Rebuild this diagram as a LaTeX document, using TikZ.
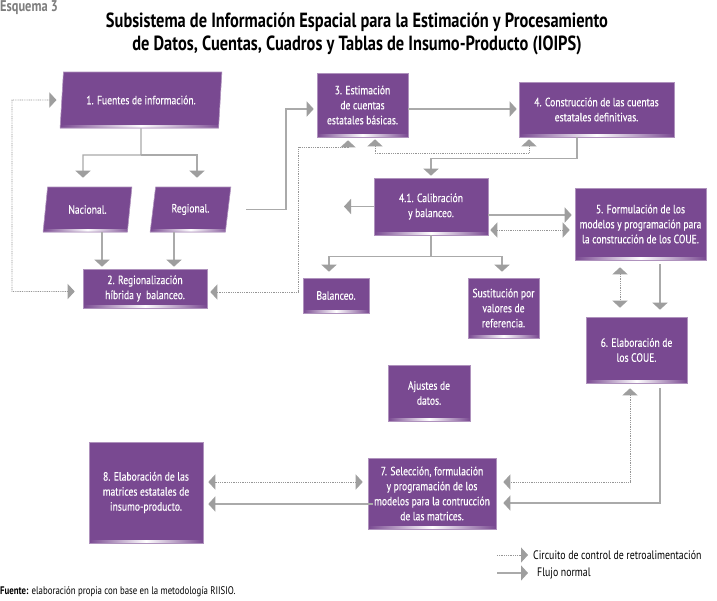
\documentclass[tikz,border=0pt]{standalone}
\usepackage{fontspec}
\setmainfont{PT Sans}[FakeStretch=0.8]
\newfontfamily\bxfam{PT Sans}[FakeStretch=0.8,FakeBold=0.3]
\usetikzlibrary{arrows.meta,shapes.geometric,calc}
\definecolor{boxc}{RGB}{121,73,145}
\definecolor{linec}{RGB}{170,170,170}
\definecolor{dotc}{RGB}{150,150,150}
\definecolor{tipc}{RGB}{158,158,158}
\definecolor{headc}{RGB}{125,125,125}
\newcommand{\bxfont}{\bxfam\fontsize{12}{15}\selectfont}
\newcommand{\ttlfont}{\fontsize{20.5}{23}\selectfont\bfseries}
\begin{document}
\begin{tikzpicture}[x=1pt,y=-1pt,
  >={Triangle[width=15pt,length=7pt,color=tipc]},
  box/.style={rectangle,fill=boxc,draw=boxc!60!white,line width=0.6pt,text=white,align=center,inner sep=0pt,font=\bxfont,
    path picture={\shade[left color=boxc,right color=boxc,middle color=white] ([yshift=-0.5pt]path picture bounding box.south west) rectangle ([yshift=2.5pt]path picture bounding box.south east);}},
  para/.style={box,trapezium,trapezium left angle=75,trapezium right angle=105,trapezium stretches=true},
  flow/.style={draw=linec,line width=1.3pt},
  fb/.style={draw=dotc,line width=0.9pt,dash pattern=on 0.9pt off 0.9pt},
  lbl/.style={inner sep=0pt,anchor=west,font=\fontsize{12.3}{14}\selectfont},
]
\fill[white] (0,0) rectangle (717,600);
\useasboundingbox (0,0) rectangle (717,600);

% titles
\node[anchor=north west,inner sep=0pt,font=\fontsize{15.5}{17}\selectfont\bfseries,text=headc] (esq) at (0,0.5) {Esquema 3};
\node[align=center,inner sep=0pt,font=\ttlfont] (title) at (357,34) {Subsistema de Información Espacial para la Estimación y Procesamiento\\de Datos, Cuentas, Cuadros y Tablas de Insumo-Producto (IOIPS)};

% nodes
\node[para,minimum width=162pt,minimum height=56pt] (n1) at (141,100) {1. Fuentes de información.};
\node[para,trapezium left angle=76,trapezium right angle=104,minimum width=89pt,minimum height=45pt] (nac) at (87.5,209.5) {Nacional.};
\node[para,minimum width=81pt,minimum height=45pt] (reg) at (190.5,209.5) {Regional.};
\node[box,minimum width=124pt,minimum height=39pt] (n2) at (145,288.5) {2. Regionalización\\híbrida y \ balanceo.};
\node[box,minimum width=91pt,minimum height=64pt] (n3) at (362.5,105) {3. Estimación\\de cuentas\\estatales básicas.};
\node[box,minimum width=155pt,minimum height=55pt] (n4) at (596.5,109.5) {4. Construcción de las cuentas\\estatales definitivas.};
\node[box,minimum width=114pt,minimum height=57pt] (n41) at (431,206.5) {4.1. Calibración\\y balanceo.};
\node[box,minimum width=131pt,minimum height=72pt] (n5) at (640.5,224) {5. Formulación de los\\modelos y programación para\\la construcción de los COUE.};
\node[box,minimum width=66pt,minimum height=35pt] (bal) at (336,295.5) {Balanceo.};
\node[box,minimum width=71pt,minimum height=60pt] (sus) at (503.5,308) {Sustitución por\\valores de\\referencia.};
\node[box,minimum width=101pt,minimum height=66pt] (n6) at (636.5,350) {6. Elaboración de\\los COUE.};
\node[box,minimum width=82pt,minimum height=56pt] (aj) at (429,393) {Ajustes de\\datos.};
\node[box,minimum width=128pt,minimum height=71pt] (n7) at (432,493.5) {7. Selección, formulación\\y programación de los\\modelos para la contrucción\\de las matrices.};
\node[box,minimum width=114pt,minimum height=101pt] (n8) at (146,492.5) {8. Elaboración de las\\matrices estatales de\\insumo-producto.};

% helper coordinates
\coordinate (k83) at (83,0);
\coordinate (k197) at (197,0);
\coordinate (k102) at (102,0);
\coordinate (k174) at (174,0);
\coordinate (k286) at (286,0);
\coordinate (k348) at (348,0);
\coordinate (k375) at (375,0);
\coordinate (k529) at (529,0);
\coordinate (k577) at (577,0);
\coordinate (k329) at (329,0);
\coordinate (k502) at (502,0);
\coordinate (k620) at (620,0);
\coordinate (k660) at (660,0);
\coordinate (k630) at (630,0);
\coordinate (j1) at (141,155);
\coordinate (d1) at (298,147);
\coordinate (d2) at (298,292);
\coordinate (d3) at (12,100);
\coordinate (free1) at (344,206.5);

% solid flow
\draw[flow,->,shorten >=9pt] (n1.south) -- (j1) -| (nac.north -| k83);
\draw[flow,->,shorten >=9pt] (j1) -| (reg.north -| k197);
\draw[flow,->,shorten >=2pt] (nac.south -| k102) -- (n2.north -| k102);
\draw[flow,->,shorten >=2pt] (reg.south -| k174) -- (n2.north -| k174);
\draw[flow,->,shorten <=18pt,shorten >=3pt] (reg.east) -- (reg.east -| k286) |- ([yshift=-4pt]n3.west);
\draw[flow,->,shorten >=2pt] ([yshift=-4pt]n3.east) -- ([yshift=-4pt]n3.east -| n4.west);
\draw[flow,->,shorten >=2pt] (n4.south -| k577) -- ++(0,21) -| (n41.north);
\draw[flow,->] (n41.west) -- (free1);
\draw[flow,->,shorten >=3pt] ([yshift=-8.5pt]n41.east) -- ([yshift=-8.5pt]n41.east -| n5.west);
\draw[flow,->,shorten >=6pt] (n41.south) -- ++(0,21) -| (bal.north -| k329);
\draw[flow,->,shorten >=6pt] (n41.south) ++(0,21) -| (sus.north -| k502);
\draw[flow,->,shorten <=4pt,shorten >=7pt] (n5.south -| k660) -- (n6.north -| k660);
\draw[flow,->,shorten <=5pt,shorten >=7pt] (n6.south -| k660) |- ([yshift=-9.5pt]n7.east);
\draw[flow,->,shorten <=-5pt,shorten >=5pt] ([yshift=-10.5pt]n7.west) -- ([yshift=-10.5pt]n7.west -| n8.east);

% feedback (dotted)
\draw[fb,<->,shorten <=8pt,shorten >=5pt] ([yshift=-3pt]n2.west) -| (d3) -- (n1.west);
\draw[fb,<->,shorten <=3pt,shorten >=3pt] (n3.south -| k348) |- (d1) -- (d2) -- (d2 -| n2.east);
\draw[fb,<->,shorten <=2pt,shorten >=2pt] (n3.south -| k375) -- ++(0,16) -| (n4.south -| k529);
\draw[fb,<->,shorten <=2pt,shorten >=5pt] ([yshift=-23.5pt]n41.east) -- ([yshift=-23.5pt]n41.east -| n5.west);
\draw[fb,<->,shorten <=7pt,shorten >=9pt] (n5.south -| k620) -- (n6.north -| k620);
\draw[fb,<->,shorten <=5pt,shorten >=7pt] (n6.south -| k630) |- ([yshift=11.5pt]n7.east);
\draw[fb,<->,shorten <=5pt,shorten >=5pt] ([yshift=11.5pt]n7.west) -- ([yshift=11.5pt]n7.west -| n8.east);

% legend
\node[lbl] (leg1) at (533,555) {Circuito de control de retroalimentación};
\node[lbl] (leg2) at (537,573) {Flujo normal};
\coordinate (ls1) at (497,555);
\coordinate (ls2) at (497,573);
\draw[fb,->,shorten >=5pt] (ls1) -- (leg1.west);
\draw[flow,->,shorten >=9pt] (ls2) -- (leg2.west);

% source
\node[anchor=west,inner sep=0pt,font=\fontsize{11}{13}\selectfont] (src) at (0,592) {\textbf{Fuente:} elaboración propia con base en la metodología RIISIO.};
\end{tikzpicture}
\end{document}
